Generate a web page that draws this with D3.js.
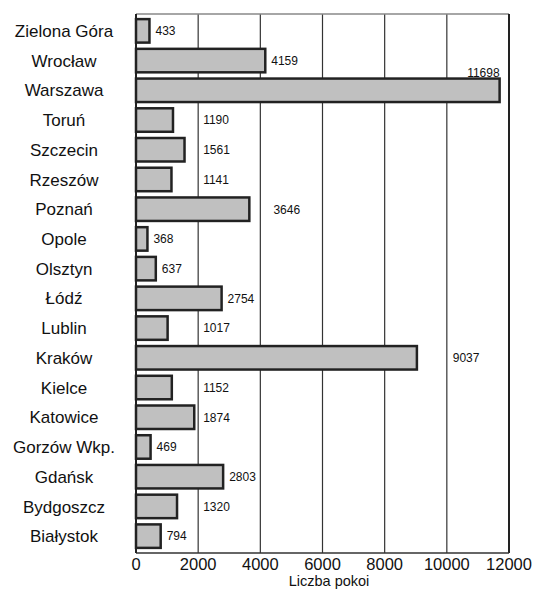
<!DOCTYPE html>
<html>
<head>
<meta charset="utf-8">
<script src="https://cdn.jsdelivr.net/npm/d3@7"></script>
<style>
  html, body { margin: 0; padding: 0; background: #fff; }
  svg { display: block; font-family: "Liberation Sans", Arial, sans-serif; }
</style>
</head>
<body>
<svg id="chart" width="540" height="590"></svg>
<script>
// ---- data ----
const categories = ["Zielona Góra","Wrocław","Warszawa","Toruń","Szczecin","Rzeszów","Poznań","Opole","Olsztyn","Łódź","Lublin","Kraków","Kielce","Katowice","Gorzów Wkp.","Gdańsk","Bydgoszcz","Białystok"];
const values = [433, 4159, 11698, 1190, 1561, 1141, 3646, 368, 637, 2754, 1017, 9037, 1152, 1874, 469, 2803, 1320, 794];
const xTicks = [0, 2000, 4000, 6000, 8000, 10000, 12000];
const axisTitle = "Liczba pokoi";

// ---- label placement (layout, in data units; null = just after bar end, "above" = above bar end) ----
const labelAnchor = [null, null, "above", 2160, 2160, 2160, 4420, null, null, null, 2160, 10190, 2160, 2160, null, null, 2160, null];

(function () {
  // ---- layout ----
  const pL = 136, pR = 509, pT = 14, pB = 553;
  const svg = d3.select("#chart");

  const x = d3.scaleLinear().domain([0, 12000]).range([pL, pR]);
  const y = d3.scaleBand().domain(categories).range([16, 551]).paddingInner(0.21).paddingOuter(0.105);

  // gridlines
  svg.append("g").selectAll("line").data(xTicks.slice(1, -1)).join("line")
    .attr("x1", d => x(d)).attr("x2", d => x(d))
    .attr("y1", pT).attr("y2", pB)
    .attr("stroke", "#333").attr("stroke-width", 1.2);

  // frame
  svg.append("line").attr("x1", pL).attr("x2", pR).attr("y1", pT).attr("y2", pT)
    .attr("stroke", "#888").attr("stroke-width", 1.5);
  svg.append("line").attr("x1", pR).attr("x2", pR).attr("y1", pT).attr("y2", pB)
    .attr("stroke", "#222").attr("stroke-width", 2);
  svg.append("line").attr("x1", pL).attr("x2", pR).attr("y1", pB).attr("y2", pB)
    .attr("stroke", "#333").attr("stroke-width", 1.5);
  svg.append("line").attr("x1", pL).attr("x2", pL).attr("y1", pT).attr("y2", pB)
    .attr("stroke", "#222").attr("stroke-width", 2);

  // bars
  svg.append("g").selectAll("rect").data(categories).join("rect")
    .attr("x", x(0))
    .attr("y", d => y(d))
    .attr("width", (d, i) => x(values[i]) - x(0))
    .attr("height", y.bandwidth())
    .attr("fill", "#c0c0c0")
    .attr("stroke", "#222")
    .attr("stroke-width", 2.5);

  // category labels
  svg.append("g").selectAll("text").data(categories).join("text")
    .attr("x", 64)
    .attr("y", d => y(d) + y.bandwidth() / 2)
    .attr("dy", "0.36em")
    .attr("text-anchor", "middle")
    .attr("font-size", 17)
    .attr("fill", "#111")
    .text(d => d);

  // value labels
  svg.append("g").selectAll("text").data(categories).join("text")
    .each(function (d, i) {
      const a = labelAnchor[i];
      const t = d3.select(this);
      if (a === "above") {
        t.attr("x", x(values[i])).attr("y", y(d) - 2).attr("text-anchor", "end");
      } else {
        const px = a === null ? x(values[i]) + 6 : x(a);
        t.attr("x", px).attr("y", y(d) + y.bandwidth() / 2).attr("dy", "0.36em").attr("text-anchor", "start");
      }
    })
    .attr("font-size", 12)
    .attr("fill", "#111")
    .text((d, i) => values[i]);

  // x tick labels
  svg.append("g").selectAll("text").data(xTicks).join("text")
    .attr("x", d => x(d))
    .attr("y", 569.5)
    .attr("text-anchor", "middle")
    .attr("font-size", 16.5)
    .attr("fill", "#111")
    .text(d => d);

  // axis title
  svg.append("text")
    .attr("x", 329).attr("y", 585.5)
    .attr("text-anchor", "middle")
    .attr("font-size", 14.5)
    .attr("fill", "#111")
    .text(axisTitle);
})();
</script>
</body>
</html>
